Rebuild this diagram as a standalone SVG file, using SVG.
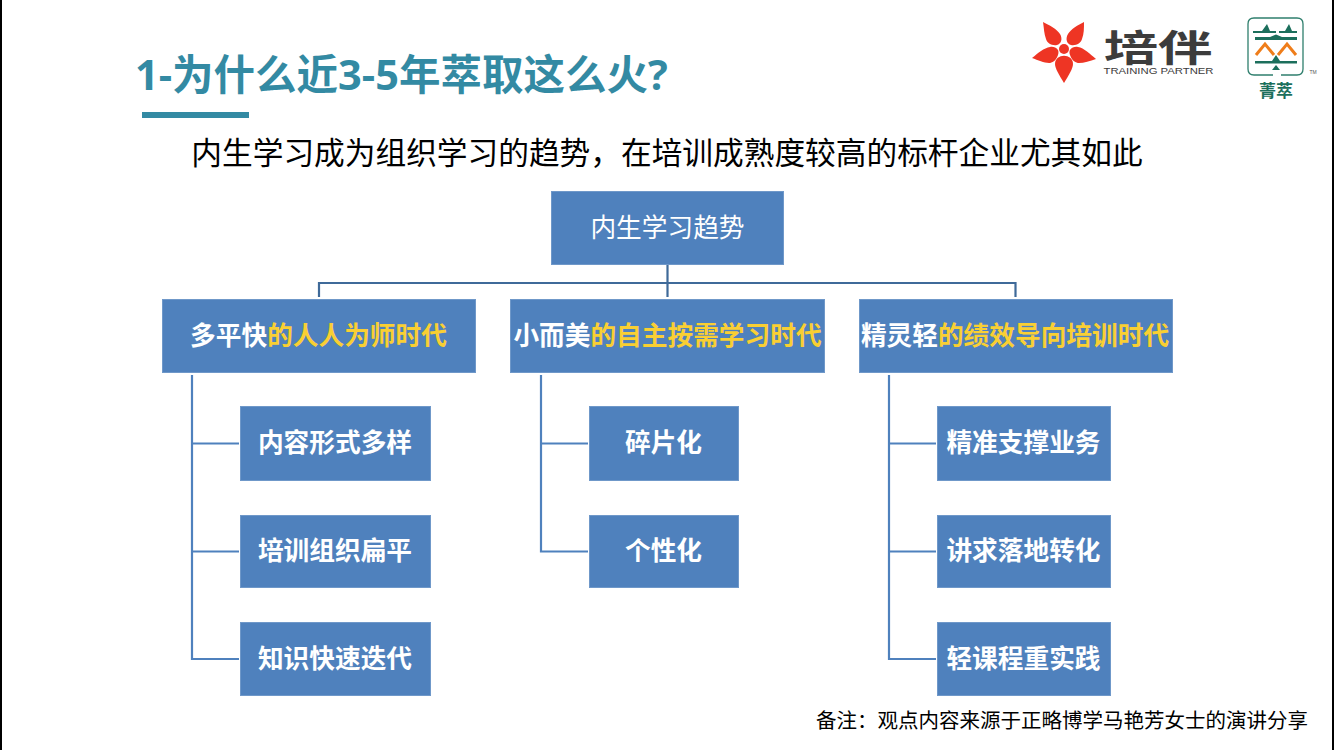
<svg xmlns="http://www.w3.org/2000/svg" width="1334" height="750" viewBox="0 0 1334 750">
<style>
text{font-family:"Liberation Sans","Noto Sans CJK SC",sans-serif}
.cj{font-family:"Noto Sans CJK SC",sans-serif}
.box{fill:#4f81bd;stroke:#6f98c9;stroke-width:1}
.w{fill:#fff;font-size:25.700px;font-weight:700;text-anchor:middle;font-family:"Noto Sans CJK SC",sans-serif}
.y{fill:#f9cf33}
.con{fill:none;stroke:#3f6a99;stroke-width:2.2}
.con2{fill:none;stroke:#4f81bd;stroke-width:2.2}
</style>
<rect width="1334" height="750" fill="#fff"/>
<rect x="0" y="0" width="2" height="750" fill="#000"/>
<rect x="1332" y="0" width="2" height="750" fill="#000"/>
<g id="title">
<text x="135" y="90" style="font-family:'Open Sans','Noto Sans CJK SC',sans-serif" font-size="41.500" font-weight="700" fill="#338aa3">1-为什么近3-5年萃取这么火?</text>
<rect x="142" y="112" width="107" height="6" fill="#338aa3"/>
</g>
<text id="subtitle" x="667" y="164" class="cj" font-size="30.700" fill="#000" text-anchor="middle">内生学习成为组织学习的趋势，在培训成熟度较高的标杆企业尤其如此</text>
<g id="logo-peiban">
<g fill="#ee3524">
<circle cx="1064" cy="49" r="5"/>
<path d="M1064 83 C1059 75 1055 68 1055 64 C1055 53 1073 53 1073 64 C1073 68 1069 75 1064 83Z"/>
<path d="M1032 58 C1038 53 1044 48 1050 47 C1056 46 1060 50 1058 55 C1056 61 1052 63 1049 63 C1044 63 1038 60 1032 58Z"/>
<path d="M1096 59 C1090 54 1084 48 1078 47 C1072 46 1068 50 1070 55 C1072 61 1076 63 1079 63 C1084 63 1090 61 1096 59Z"/>
<path d="M1043 22 C1049 25 1057 29 1060 34 C1063 39 1061 44 1057 45 C1052 46 1047 43 1046 39 C1044 34 1044 28 1043 22Z"/>
<path d="M1084 22 C1078 25 1071 29 1068 34 C1065 39 1067 44 1071 45 C1076 46 1081 43 1082 39 C1084 34 1084 28 1084 22Z"/>
</g>
<text transform="translate(1158 62) scale(1.450 1)" class="cj" font-size="37.500" font-weight="700" fill="#3c3c3c" text-anchor="middle">培伴</text>
<text x="1158.500" y="74" font-size="9.500" fill="#3c3c3c" text-anchor="middle" textLength="110" lengthAdjust="spacingAndGlyphs">TRAINING PARTNER</text>
</g>
<g id="logo-jingcui">
<path d="M1273 75 H1254 Q1248 75 1248 69 V24 Q1248 18 1254 18 H1297 Q1303 18 1303 24 V69 Q1303 75 1297 75 H1281" fill="none" stroke="#2f7f6d" stroke-width="1.300"/>
<g fill="#1c6f5c">
<path d="M1269 24 L1272 31 H1278 V33 H1255 V31 H1264Z" transform="translate(-2 0)"/>
<path d="M1289 24 L1292 31 H1297 V33 H1279 V31 H1285Z"/>
<path d="M1255 37 H1270 L1276 34.500 L1282 37 H1297 V40 H1255Z"/>
<path d="M1276 55 L1280 61 H1297 V63.500 H1255 V61 H1272Z"/>
<path d="M1276 65 L1280 70 H1272Z"/>
</g>
<g fill="none" stroke="#ef7d1a" stroke-width="3">
<path d="M1256 55 L1265 44 L1274 55"/><path d="M1278 55 L1287 44 L1296 55"/>
</g>
<text x="1276" y="97" class="cj" font-size="17" font-weight="700" fill="#1c6f5c" text-anchor="middle">菁萃</text>
<text x="1313" y="74" font-size="5" fill="#555" text-anchor="middle">TM</text>
</g>
<g id="connectors">
<path class="con" d="M667.500 265V297M319 297V283H1015.500V297"/>
<path class="con2" d="M192 375V659H239M192 443.500H239M192 551.500H239"/>
<path class="con2" d="M541 375V551.500H588M541 443.500H588"/>
<path class="con2" d="M889 375V659H936M889 443.500H936M889 551.500H936"/>
</g>
<g id="root"><rect class="box" x="551.500" y="191.500" width="232" height="73"/><text x="667.500" y="237" text-anchor="middle" class="cj" font-size="25.700" fill="#fff">内生学习趋势</text></g>
<g id="n1"><rect class="box" x="162.500" y="299.500" width="313" height="73"/><text class="w" x="318.500" y="345">多平快<tspan class="y">的人人为师时代</tspan></text></g>
<g id="n2"><rect class="box" x="510.500" y="299.500" width="314" height="73"/><text class="w" x="667.500" y="345">小而美<tspan class="y">的自主按需学习时代</tspan></text></g>
<g id="n3"><rect class="box" x="859.500" y="299.500" width="313" height="73"/><text class="w" x="1015" y="345">精灵轻<tspan class="y">的绩效导向培训时代</tspan></text></g>
<g id="a1"><rect class="box" x="240.500" y="406.500" width="190" height="74"/><text class="w" x="335" y="452">内容形式多样</text></g>
<g id="a2"><rect class="box" x="240.500" y="515.500" width="190" height="72"/><text class="w" x="335" y="560">培训组织扁平</text></g>
<g id="a3"><rect class="box" x="240.500" y="622.500" width="190" height="73"/><text class="w" x="335" y="668">知识快速迭代</text></g>
<g id="b1"><rect class="box" x="589.500" y="406.500" width="149" height="74"/><text class="w" x="663.500" y="452">碎片化</text></g>
<g id="b2"><rect class="box" x="589.500" y="515.500" width="149" height="72"/><text class="w" x="663.500" y="560">个性化</text></g>
<g id="c1"><rect class="box" x="937.500" y="406.500" width="173" height="74"/><text class="w" x="1023.500" y="452">精准支撑业务</text></g>
<g id="c2"><rect class="box" x="937.500" y="515.500" width="173" height="72"/><text class="w" x="1023.500" y="560">讲求落地转化</text></g>
<g id="c3"><rect class="box" x="937.500" y="622.500" width="173" height="73"/><text class="w" x="1023.500" y="668">轻课程重实践</text></g>
<text id="note" x="816" y="728" class="cj" font-size="20.500" fill="#000">备注：观点内容来源于正略博学马艳芳女士的演讲分享</text>
</svg>
